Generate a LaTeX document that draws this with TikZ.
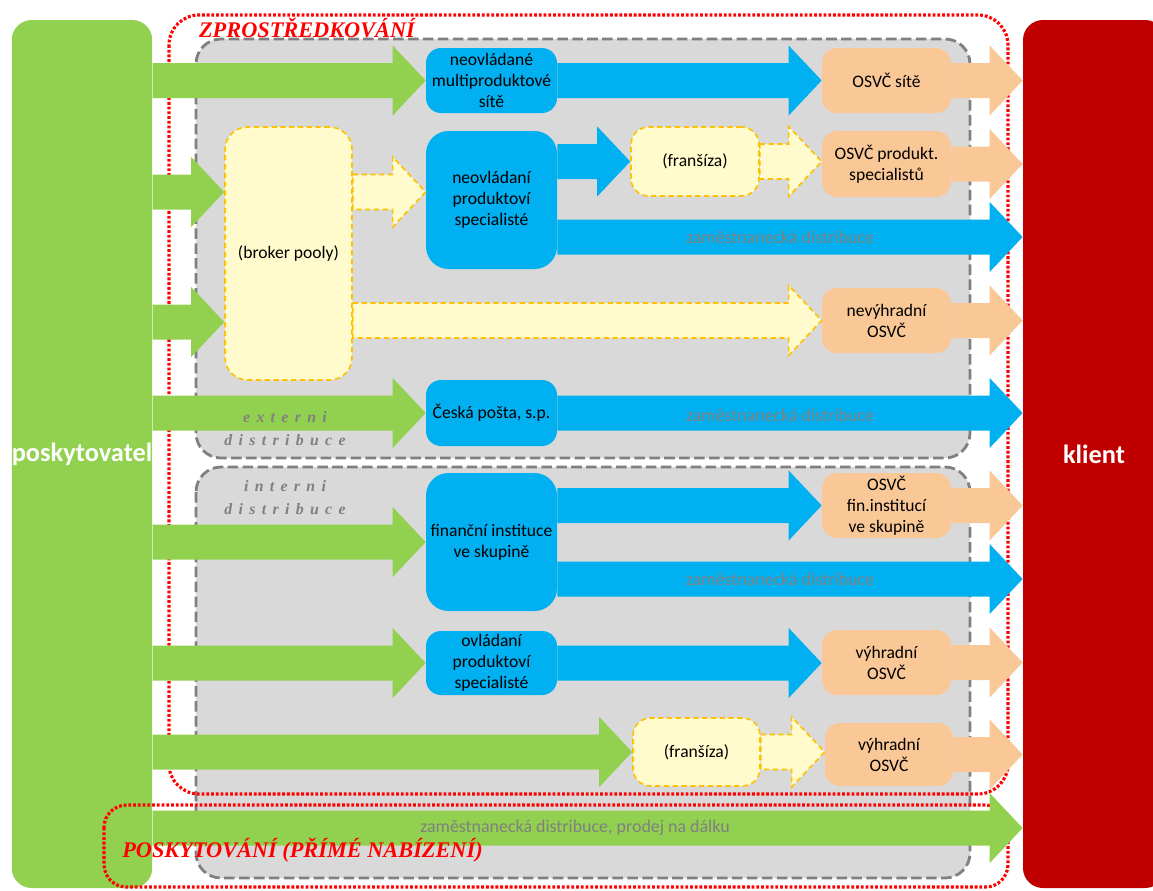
\documentclass[tikz,border=0pt]{standalone}
\usepackage{fontspec}
\setmainfont{Carlito}
\newfontfamily\serifital{Liberation Serif}
\newfontfamily\spacedserif[LetterSpace=40]{Liberation Serif}
\usetikzlibrary{calc}
\definecolor{provgreen}{HTML}{92D050}
\definecolor{distblue}{HTML}{00B0F0}
\definecolor{clientred}{HTML}{C00000}
\definecolor{osvcpeach}{HTML}{FAC896}
\definecolor{poolyellow}{HTML}{FFFBCC}
\definecolor{poolline}{HTML}{FFC000}
\definecolor{panelgray}{HTML}{D9D9D9}
\definecolor{panelline}{HTML}{808080}
\def\abody{0.35cm}
\def\atip{0.7cm}
\def\ahead{0.66cm}
\def\fatarrow[#1](#2)(#3){\path[#1] let \p1=(#2), \p2=(#3) in (\x1,{\y1+\abody}) -- ({\x2-\ahead},{\y1+\abody}) -- ({\x2-\ahead},{\y1+\atip}) -- (\x2,\y1) -- ({\x2-\ahead},{\y1-\atip}) -- ({\x2-\ahead},{\y1-\abody}) -- (\x1,{\y1-\abody}) -- cycle;}

\begin{document}
\begin{tikzpicture}[
	boxtext/.style={align=center, inner sep=0pt, font=\fontsize{10}{12}\selectfont},
	bluebox/.style={boxtext, fill=distblue, rounded corners=0.3cm},
	peachbox/.style={boxtext, fill=osvcpeach, rounded corners=0.3cm},
	yelbox/.style={boxtext, fill=poolyellow, draw=poolline, line width=0.9pt, dash pattern=on 3pt off 2pt, rounded corners=0.35cm},
	greenarrow/.style={fill=provgreen},
	bluearrow/.style={fill=distblue},
	peacharrow/.style={fill=osvcpeach},
	yelarrow/.style={fill=poolyellow, draw=poolline, line width=0.9pt, dash pattern=on 3pt off 2pt},
	panel/.style={fill=panelgray, draw=panelline, line width=1.6pt, dash pattern=on 6pt off 2.5pt, rounded corners=0.5cm},
	reddots/.style={draw=red, line width=1.8pt, dash pattern=on 1.6pt off 1.1pt},
	graylabel/.style={text=panelline, inner sep=0pt, font=\fontsize{10.2}{12}\selectfont},
	spacedlabel/.style={text=panelline, align=center, inner sep=0pt, font=\spacedserif\bfseries\itshape\fontsize{9}{13}\selectfont},
	redtitle/.style={text=red, inner sep=0pt, font=\serifital\bfseries\itshape\fontsize{12.7}{14}\selectfont}]
	%%%%% START %%%%%
	\useasboundingbox (0,0) rectangle (23.06,-17.8);
	
	\draw[panel] (3.92,-0.78) rectangle (19.4,-9.16);
	\draw[panel] (3.92,-9.34) rectangle (19.4,-17.56);
	\draw[reddots, rounded corners=0.6cm] (3.38,-0.3) rectangle (20.16,-15.88);
	
	\node[fill=provgreen, rounded corners=0.4cm, minimum width=2.8cm, minimum height=17.36cm, inner sep=0pt, text=white, font=\bfseries\fontsize{15}{17}\selectfont] (prov) at (1.64,-9.08) {poskytovatel};
	\node[fill=clientred, rounded corners=0.4cm, minimum width=2.84cm, minimum height=17.36cm, inner sep=0pt, text=white, font=\bfseries\fontsize{15}{17}\selectfont] (klient) at (21.88,-9.08) {klient};
	
	\node[bluebox, minimum width=2.62cm, minimum height=1.3cm] (nms) at (9.83,-1.61) {neovládané\\multiproduktové\\sítě};
	\node[bluebox, minimum width=2.62cm, minimum height=2.76cm, rounded corners=0.45cm] (nps) at (9.83,-4.0) {neovládaní\\produktoví\\specialisté};
	\node[bluebox, minimum width=2.62cm, minimum height=1.32cm] (cp) at (9.83,-8.26) {Česká pošta, s.p.};
	\node[bluebox, minimum width=2.62cm, minimum height=2.76cm, rounded corners=0.45cm] (fis) at (9.83,-10.84) {finanční instituce\\ve skupině};
	\node[bluebox, minimum width=2.62cm, minimum height=1.28cm] (ops) at (9.83,-13.26) {ovládaní\\produktoví\\specialisté};
	
	\node[yelbox, minimum width=2.54cm, minimum height=5.06cm, rounded corners=0.45cm] (broker) at (5.77,-5.07) {(broker pooly)};
	\node[yelbox, minimum width=2.56cm, minimum height=1.38cm] (fr1) at (13.9,-3.23) {(franšíza)};
	\node[yelbox, minimum width=2.54cm, minimum height=1.36cm] (fr2) at (13.93,-15.04) {(franšíza)};
	
	\node[peachbox, minimum width=2.58cm, minimum height=1.3cm] (os1) at (17.73,-1.61) {OSVČ sítě};
	\node[peachbox, minimum width=2.58cm, minimum height=1.32cm] (os2) at (17.73,-3.28) {OSVČ produkt.\\specialistů};
	\node[peachbox, minimum width=2.58cm, minimum height=1.3cm] (os3) at (17.73,-6.41) {nevýhradní\\OSVČ};
	\node[peachbox, minimum width=2.58cm, minimum height=1.3cm] (os4) at (17.73,-10.11) {OSVČ\\fin.institucí\\ve skupině};
	\node[peachbox, minimum width=2.58cm, minimum height=1.3cm] (os5) at (17.73,-13.25) {výhradní\\OSVČ};
	\node[peachbox, minimum width=2.56cm, minimum height=1.26cm] (os6) at (17.78,-15.09) {výhradní\\OSVČ};
	
	\draw[reddots, rounded corners=0.45cm] (2.08,-16.1) rectangle (20.16,-17.74);
	
	\coordinate (bk1) at ($(broker.west)+(0,1.23)$);
	\coordinate (bk2) at ($(broker.west)+(0,-1.37)$);
	\coordinate (zd1) at ($(nps.east)+(0,-0.74)$);
	\coordinate (zd2) at ($(fis.east)+(0,-0.74)$);
	\coordinate (dalku) at (11.5,-16.56);
	
	% green
	\fatarrow[greenarrow](prov.east |- nms.west)(nms.west)
	\fatarrow[greenarrow](prov.east |- bk1)(bk1)
	\fatarrow[greenarrow](prov.east |- bk2)(bk2)
	\fatarrow[greenarrow](prov.east |- cp.west)(cp.west)
	\fatarrow[greenarrow](prov.east |- fis.west)(fis.west)
	\fatarrow[greenarrow](prov.east |- ops.west)(ops.west)
	\fatarrow[greenarrow](prov.east |- fr2.west)(fr2.west)
	\fatarrow[greenarrow](prov.east |- dalku)(klient.west |- dalku)
	
	% blue
	\fatarrow[bluearrow](nms.east)(os1.west)
	\fatarrow[bluearrow](nps.east |- fr1.west)(fr1.west)
	\fatarrow[bluearrow](zd1)(klient.west |- zd1)
	\fatarrow[bluearrow](cp.east)(klient.west |- cp.east)
	\fatarrow[bluearrow](fis.east |- os4.west)(os4.west)
	\fatarrow[bluearrow](zd2)(klient.west |- zd2)
	\fatarrow[bluearrow](ops.east)(os5.west)
	
	% yellow
	\fatarrow[yelarrow](broker.east |- bk1)(nps.west |- bk1)
	\fatarrow[yelarrow](broker.east |- os3.west)(os3.west)
	\fatarrow[yelarrow](fr1.east)(os2.west |- fr1.east)
	\fatarrow[yelarrow](fr2.east)(os6.west |- fr2.east)
	
	% peach
	\foreach \o in {os1,os2,os3,os4,os5,os6}{\fatarrow[peacharrow](\o.east)(klient.west |- \o.east)}
	
	\node[graylabel] (zdlbl1) at (15.6,-4.74) {zaměstnanecká distribuce};
	\node[graylabel] (zdlbl2) at (15.6,-8.3) {zaměstnanecká distribuce};
	\node[graylabel] (zdlbl3) at (15.6,-11.58) {zaměstnanecká distribuce};
	\node[graylabel] (zdlbl4) at (11.5,-16.56) {zaměstnanecká distribuce, prodej na dálku};
	
	\node[spacedlabel] (ext) at (5.7,-8.58) {externi\\distribuce};
	\node[spacedlabel] (int) at (5.7,-9.95) {interni\\distribuce};
	
	\node[redtitle] (ztitle) at (6.14,-0.56) {ZPROSTŘEDKOVÁNÍ};
	\node[redtitle] (ptitle) at (6.05,-17.0) {POSKYTOVÁNÍ (PŘÍMÉ NABÍZENÍ)};
	%%%%% END %%%%%
\end{tikzpicture}
\end{document}
